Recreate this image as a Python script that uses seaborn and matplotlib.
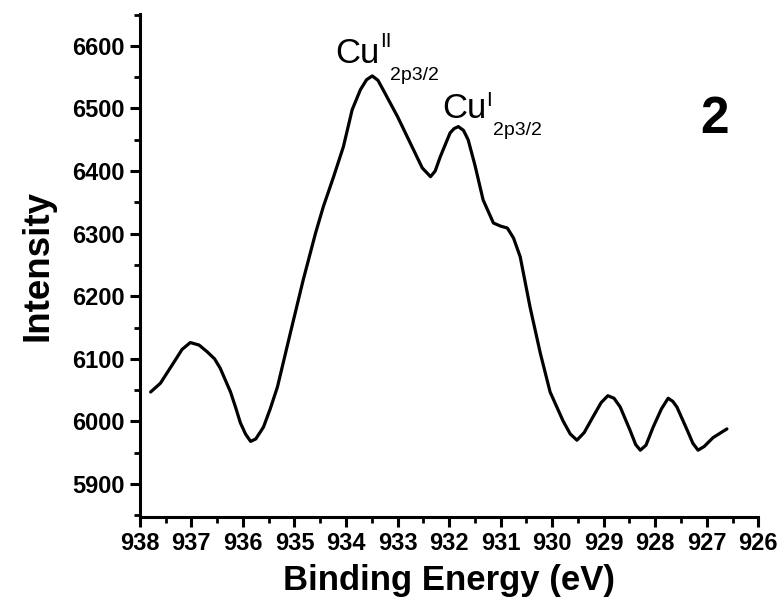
import matplotlib
matplotlib.use("Agg")
import matplotlib.pyplot as plt
import seaborn as sns
import pandas as pd

binding_energy = [937.79, 937.60, 937.35, 937.18, 937.02, 936.85, 936.69, 936.55, 936.44,
                  936.24, 936.14, 936.05, 935.95, 935.85, 935.75, 935.60, 935.47, 935.33,
                  935.08, 934.83, 934.59, 934.44, 934.24, 934.05, 933.88, 933.72, 933.60,
                  933.49, 933.38, 933.28, 933.15, 933.00, 932.69, 932.52, 932.36, 932.27,
                  932.17, 931.98, 931.90, 931.82, 931.72, 931.63, 931.50, 931.34, 931.14,
                  931.00, 930.87, 930.75, 930.62, 930.43, 930.23, 930.04, 929.79, 929.65,
                  929.52, 929.38, 929.21, 929.05, 928.92, 928.80, 928.68, 928.49, 928.38,
                  928.29, 928.18, 928.04, 927.88, 927.75, 927.66, 927.58, 927.38, 927.27,
                  927.17, 927.05, 926.88, 926.61]
intensity = [6047, 6061, 6093, 6115, 6126, 6122, 6111, 6100, 6085,
             6047, 6022, 5998, 5980, 5968, 5972, 5991, 6020, 6055,
             6141, 6226, 6301, 6343, 6391, 6439, 6498, 6530, 6546,
             6552, 6545, 6530, 6510, 6487, 6434, 6405, 6391, 6400,
             6423, 6461, 6468, 6471, 6465, 6450, 6410, 6354, 6317,
             6312, 6309, 6293, 6263, 6183, 6109, 6047, 6001, 5980,
             5970, 5982, 6007, 6030, 6041, 6037, 6023, 5986, 5963,
             5954, 5962, 5991, 6020, 6037, 6032, 6023, 5986, 5965,
             5954, 5960, 5974, 5988]

x_ticks = [938, 937, 936, 935, 934, 933, 932, 931, 930, 929, 928, 927, 926]
y_ticks = [5900, 6000, 6100, 6200, 6300, 6400, 6500, 6600]

df = pd.DataFrame({"Binding Energy (eV)": binding_energy, "Intensity": intensity})

sns.set_theme(style="ticks")
plt.rcParams["font.family"] = ["Liberation Sans", "DejaVu Sans"]
plt.rcParams["text.color"] = "black"
plt.rcParams["axes.labelcolor"] = "black"
plt.rcParams["xtick.color"] = "black"
plt.rcParams["ytick.color"] = "black"

fig = plt.figure(figsize=(7.81, 6.07), dpi=100)
ax = fig.add_axes([0.179, 0.148, 0.792, 0.829])

sns.lineplot(data=df, x="Binding Energy (eV)", y="Intensity", ax=ax,
             color="black", linewidth=2.3, sort=False,
             solid_joinstyle="round", solid_capstyle="round")

ax.set_xlim(938, 926)
ax.set_ylim(5847, 6651)
ax.set_xticks(x_ticks)
ax.set_xticklabels([str(v) for v in x_ticks])
ax.set_yticks(y_ticks)
ax.set_yticklabels([str(v) for v in y_ticks])
ax.set_xticks([v + 0.5 for v in x_ticks[1:]], minor=True)
ax.set_yticks([v + 50 for v in [5800] + y_ticks], minor=True)

for s in ["top", "right"]:
    ax.spines[s].set_visible(False)
for s in ["left", "bottom"]:
    ax.spines[s].set_linewidth(2.2)
    ax.spines[s].set_color("black")

ax.tick_params(axis="both", which="major", length=7, width=2.2, color="black",
               labelsize=17, pad=4, labelcolor="black")
ax.tick_params(axis="both", which="minor", length=4.5, width=2.0, color="black")
for lab in ax.get_xticklabels() + ax.get_yticklabels():
    lab.set_fontweight("bold")

ax.set_xlabel("Binding Energy (eV)", fontsize=25, fontweight="bold", labelpad=6,
              color="black")
ax.set_ylabel("Intensity", fontsize=26.5, fontweight="bold", labelpad=12,
              color="black")

# annotations
ax.text(934.21, 6573, "Cu", fontsize=25, ha="left", va="baseline", color="black")
ax.text(933.33, 6598, "II", fontsize=15, ha="left", va="baseline", color="black")
ax.text(933.14, 6546, "2p3/2", fontsize=14, ha="left", va="baseline", color="black")

ax.text(932.13, 6485, "Cu", fontsize=25, ha="left", va="baseline", color="black")
ax.text(931.29, 6504, "I", fontsize=15, ha="left", va="baseline", color="black")
ax.text(931.14, 6458, "2p3/2", fontsize=14, ha="left", va="baseline", color="black")

ax.text(927.13, 6461, "2", fontsize=37, fontweight="bold", ha="left", va="baseline",
        color="black")

fig.savefig("out.png", dpi=100)
